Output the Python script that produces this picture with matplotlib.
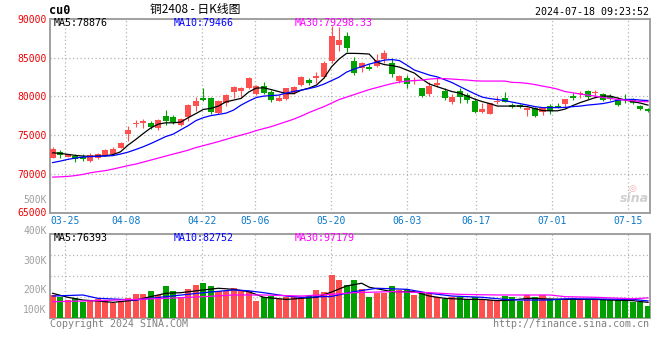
import numpy as np
import pandas as pd
import matplotlib
matplotlib.use('Agg')
import matplotlib.pyplot as plt

# trading days shown: 03-21 .. 07-18 (exchange holidays removed)
holidays = ['2024-04-04', '2024-04-05', '2024-05-01', '2024-05-02', '2024-05-03', '2024-06-10']
days = pd.bdate_range('2024-03-21', '2024-07-18')
days = days[~days.isin(pd.to_datetime(holidays))]
dates = [d.strftime('%m-%d') for d in days]
tick_labels = ['03-25', '04-08', '04-22', '05-06', '05-20', '06-03', '06-17', '07-01', '07-15']

opens = [72070, 72840, 72200, 72330, 72200, 71680, 71990, 72420, 72550, 73360,
         75130, 76420, 76590, 76590, 75870, 77490, 77290, 76290, 77360, 78750,
         79820, 79740, 77880, 79100, 80590, 80690, 81030, 80260, 81370, 80590,
         79430, 79650, 80470, 81460, 82110, 82330, 82530, 84600, 86630, 87790,
         84600, 83620, 83750, 83920, 84780, 84340, 81980, 82330, 81940, 81030,
         80300, 81500, 80690, 79260, 80690, 80170, 79430, 78010, 77710, 79230,
         79740, 78920, 78920, 78230, 78490, 78010, 78750, 78750, 79010, 80040,
         80260, 80690, 80470, 80300, 80040, 79690, 79610, 79520, 78790, 78400]
highs = [73410, 73060, 72580, 72550, 72510, 72710, 72670, 73230, 73410, 74060,
         76160, 76940, 77110, 76770, 77030, 78230, 77580, 77160, 79010, 79950,
         81030, 79870, 79520, 80300, 81330, 81240, 82530, 81460, 81810, 80810,
         80170, 81110, 81330, 82620, 82330, 83100, 84600, 89080, 88920, 88350,
         85120, 84470, 84170, 85430, 85980, 84910, 82750, 82750, 82460, 81110,
         81890, 82330, 81030, 80300, 81030, 80390, 79740, 79100, 79170, 80040,
         80590, 79170, 79040, 78580, 78580, 78580, 79010, 79100, 79690, 80470,
         80720, 80810, 80810, 80470, 80300, 79870, 80300, 79740, 78920, 78530]
lows = [72030, 71990, 72160, 71550, 71680, 71550, 71860, 72330, 72460, 73280,
        74260, 76000, 75870, 75740, 75650, 76290, 76420, 76160, 76810, 78140,
        79390, 77710, 77670, 78750, 79820, 79870, 80900, 80170, 80300, 79300,
        79390, 79520, 80300, 81370, 81460, 81680, 82330, 84340, 85890, 85690,
        82750, 83180, 83400, 83750, 84260, 82460, 81680, 81110, 81590, 79950,
        80040, 81240, 79520, 79010, 79170, 79100, 77880, 77800, 77670, 79010,
        79230, 78450, 78490, 77460, 77330, 77580, 77710, 78450, 78580, 79520,
        79740, 79610, 79740, 79390, 79520, 78750, 79170, 79010, 78230, 78010]
closes = [73150, 72420, 72510, 71940, 71940, 72420, 72550, 73060, 73230, 74010,
          75650, 76590, 76770, 76070, 76940, 76850, 76640, 77030, 78920, 79430,
          79520, 78010, 79390, 80170, 81240, 81030, 82330, 81370, 80470, 79520,
          79820, 81030, 81240, 82460, 81760, 82620, 84340, 87790, 87270, 86280,
          82970, 84260, 83530, 84690, 85630, 82880, 82620, 81550, 82110, 80040,
          81330, 81680, 79820, 79950, 79950, 79520, 78010, 78360, 79100, 79430,
          79300, 78660, 78660, 78530, 77460, 78450, 78140, 78620, 79650, 79780,
          80390, 79950, 80590, 79520, 79690, 78880, 79480, 79100, 78320, 78100]

ma5 = [72710, 72640, 72510, 72380, 72290, 72250, 72290, 72330, 72480, 72840,
       73710, 74420, 75190, 75910, 76420, 76590, 76590, 76680, 77260, 77780,
       78320, 78450, 78750, 79300, 79520, 79740, 80560, 81070, 81110, 80880,
       80620, 80360, 80360, 80810, 81070, 81460, 82360, 83820, 84820, 85560,
       85560, 85530, 85470, 84430, 84110, 83980, 83790, 83400, 83010, 82240,
       81590, 81270, 80940, 80620, 80430, 80040, 79650, 79330, 79070, 78750,
       78750, 78750, 78750, 78680, 78420, 78170, 78140, 78140, 78360, 78810,
       79200, 79520, 79850, 80040, 80040, 79780, 79520, 79330, 79130, 78876]
ma10 = [71450, 71640, 71860, 72030, 72160, 72220, 72260, 72290, 72350, 72550,
        72800, 73130, 73490, 73900, 74350, 74810, 75130, 75690, 76230, 76870,
        77260, 77520, 77670, 77840, 78230, 78880, 79390, 79850, 80040, 80100,
        80170, 80430, 80650, 80810, 81010, 81240, 81590, 82040, 82490, 83140,
        83530, 83850, 84170, 84430, 84690, 84760, 84630, 84040, 83400, 83080,
        82750, 82530, 82170, 81780, 81290, 80810, 80340, 79910, 79720, 79590,
        79460, 79260, 79070, 78880, 78680, 78550, 78550, 78550, 78580, 78680,
        78750, 78880, 78970, 79070, 79260, 79520, 79610, 79610, 79520, 79466]
ma30 = [69570, 69610, 69660, 69770, 69920, 70130, 70280, 70410, 70610, 70830,
        71060, 71250, 71510, 71770, 72030, 72290, 72550, 72800, 73060, 73390,
        73640, 73900, 74160, 74450, 74740, 75000, 75260, 75580, 75840, 76100,
        76420, 76740, 77070, 77460, 77910, 78300, 78680, 79130, 79590, 79910,
        80230, 80560, 80880, 81140, 81400, 81650, 81850, 81980, 82040, 82110,
        82240, 82300, 82300, 82240, 82170, 82110, 82020, 81980, 81980, 81980,
        81980, 81810, 81780, 81680, 81530, 81330, 81160, 80940, 80620, 80470,
        80300, 80170, 80040, 79870, 79740, 79610, 79520, 79430, 79350, 79298]

# volume, thousand lots
volume = [111, 103, 87, 95, 79, 87, 90, 82, 74, 82,
          98, 116, 116, 131, 111, 154, 131, 103, 140, 159,
          170, 154, 131, 131, 143, 131, 130, 84, 103, 106,
          90, 103, 103, 103, 106, 135, 127, 206, 182, 159,
          182, 138, 103, 122, 122, 154, 135, 138, 111, 122,
          119, 103, 92, 100, 103, 90, 103, 90, 87, 87,
          106, 100, 82, 111, 103, 111, 90, 92, 87, 98,
          87, 92, 87, 90, 87, 87, 90, 79, 79, 59]
vma5_at = [0, 2, 4, 6, 8, 11, 13, 15, 17, 20, 22, 24, 26, 28, 31, 33, 35, 37, 39, 41,
           42, 45, 48, 50, 52, 55, 57, 59, 61, 63, 66, 68, 70, 72, 74, 77, 79]
vma5 = [119, 100, 87, 82, 76, 87, 103, 119, 122, 135, 143, 138, 127, 100, 90, 95, 100, 125, 154, 167,
        148, 127, 127, 106, 95, 90, 90, 84, 87, 95, 92, 90, 90, 90, 87, 84, 76]
vma10_at = [0, 4, 6, 11, 13, 15, 20, 24, 26, 28, 31, 33, 37, 40, 43, 47, 50, 53, 57, 60,
            62, 66, 68, 72, 77, 79]
vma10 = [106, 111, 95, 87, 95, 103, 122, 135, 131, 122, 106, 100, 104, 127, 143, 138, 119, 106, 100, 90,
         87, 87, 93, 92, 90, 83]
vma30_at = [0, 6, 11, 15, 20, 24, 28, 33, 37, 40, 45, 50, 54, 59, 66, 68, 72, 77, 79]
vma30 = [79, 84, 90, 95, 103, 111, 111, 106, 114, 122, 127, 122, 114, 111, 111, 103, 100, 93, 97]

RED = '#ff5050'
GREEN = '#00a000'
GRID = '#b4b4b4'
BORDER = '#a0a0a0'
MONO = 'DejaVu Sans Mono'

x = np.arange(len(dates))
o = np.array(opens)
c = np.array(closes)
col = np.where(c >= o, RED, GREEN)
body_lo = np.minimum(o, c)
body_h = np.maximum(np.abs(c - o), 120)

# sina spaces its date grid slightly wider than the candles
tick_idx = [dates.index(t) for t in tick_labels]
tick_pos = [1.0098 * i - 0.39 for i in tick_idx]

W, H = 660, 360
fig = plt.figure(figsize=(W / 100, H / 100), dpi=100)
ax = fig.add_axes([50.3 / W, 1 - 212.5 / H, 599.2 / W, 193.5 / H])
ax2 = fig.add_axes([50.3 / W, 1 - 318.3 / H, 599.2 / W, 84 / H])

# price panel
ax.vlines(x, lows, highs, colors=col, lw=0.8, zorder=2)
ax.bar(x, body_h, bottom=body_lo, width=0.8, color=col, lw=0, zorder=3)
ax.plot(x, ma5, color='black', lw=0.9, zorder=4)
ax.plot(x, ma10, color='#0000ff', lw=0.9, zorder=4)
ax.plot(x, ma30, color='#ff00ff', lw=0.9, zorder=4)
ax.set_xlim(-0.32, 79.2)
ax.set_ylim(65000, 90000)
ax.set_yticks(range(65000, 90001, 5000))
ax.set_yticklabels([str(v) for v in range(65000, 90001, 5000)], family=MONO, fontsize=7, color='#ee0000')
ax.set_xticks(tick_pos)
ax.set_xticklabels(tick_labels, family=MONO, fontsize=7, color='#0a78c8')
ax.tick_params(length=0, pad=2.5)

# volume panel
ax2.bar(x, volume, width=0.8, color=col, lw=0, zorder=3)
ax2.plot(vma5_at, vma5, color='black', lw=0.9, zorder=4)
ax2.plot(vma10_at, vma10, color='#0000ff', lw=0.9, zorder=4)
ax2.plot(vma30_at, vma30, color='#ff00ff', lw=0.9, zorder=4)
ax2.set_xlim(-0.32, 79.2)
ax2.set_ylim(0, 400)
ax2.set_yticks([100, 200, 300, 400])
ax2.set_yticklabels([])
ax2.set_xticks(tick_pos)
ax2.set_xticklabels([])
ax2.tick_params(length=0)

for a in (ax, ax2):
    a.set_axisbelow(True)
    a.grid(True, ls=(0, (1, 2)), color=GRID, lw=0.9)
    for s in a.spines.values():
        s.set_color(BORDER)
        s.set_linewidth(1.4)

def px(xp, yp, s, **kw):
    kw.setdefault('family', MONO)
    kw.setdefault('fontsize', 7.2)
    fig.text(xp / W, 1 - yp / H, s, **kw)

# header
px(49, 11, 'cu0', fontsize=8.5, weight='bold', va='center')
px(195, 10, '铜2408 - 日K线图', family=['Noto Sans CJK SC', 'DejaVu Sans'], fontsize=8.5,
   ha='center', va='center')
px(649, 12, '2024-07-18 09:23:52', ha='right', va='center')

# MA legends
px(54, 23.5, 'MA5:78876', color='black', va='center')
px(174, 23.5, 'MA10:79466', color='#0000ff', va='center')
px(295, 23.5, 'MA30:79298.33', color='#ff00ff', va='center')
px(54, 238, 'MA5:76393', color='black', va='center')
px(174, 238, 'MA10:82752', color='#0000ff', va='center')
px(295, 238, 'MA30:97179', color='#ff00ff', va='center')

# volume axis labels (sina draws them off the grid rows)
px(46.5, 200.3, '500K', color='#a0a0a0', fontsize=7, ha='right', va='center')
for lab, yp in [('400K', 231), ('300K', 261), ('200K', 290), ('100K', 310)]:
    px(46.5, yp, lab, color='#a0a0a0', fontsize=7, ha='right', va='center')

# footer + watermark
px(50, 324, 'Copyright 2024 SINA.COM', color='#808080', va='center')
px(649, 324, 'http://finance.sina.com.cn', color='#808080', ha='right', va='center')
px(634, 199, 'sina', family='DejaVu Sans', fontsize=9, weight='bold', style='italic',
   color='#cfcfcf', ha='center', va='center')
px(632, 188, '◎', family='DejaVu Sans', fontsize=6.5, color='#f2b0b0', ha='center', va='center')

fig.savefig('out.png', dpi=100)
